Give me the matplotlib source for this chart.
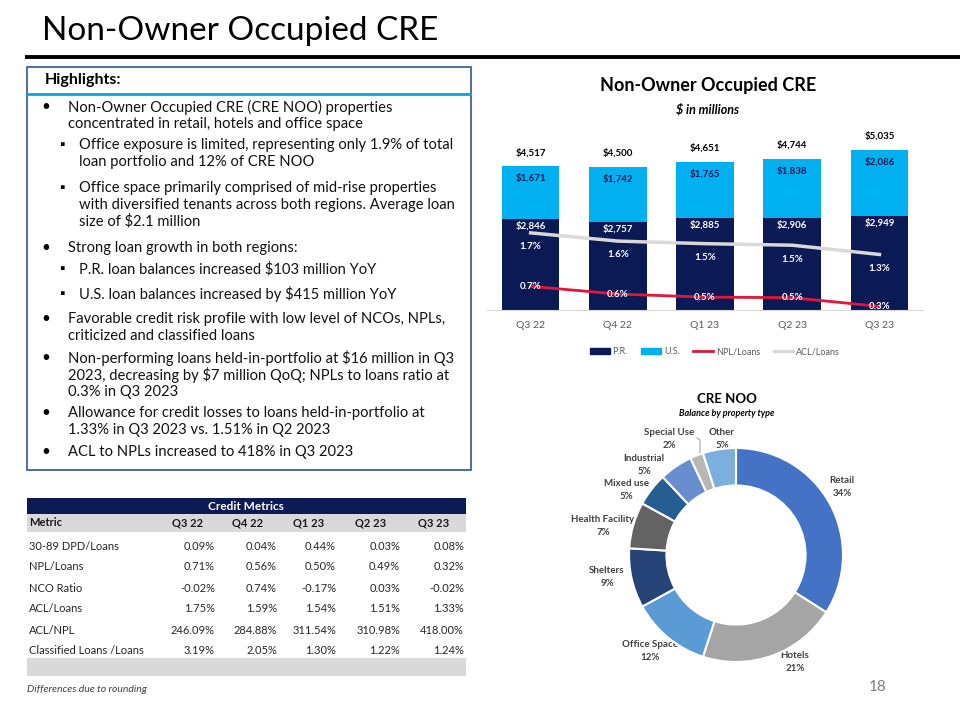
import matplotlib.pyplot as plt
from matplotlib.patches import Rectangle, Patch
from matplotlib.lines import Line2D

plt.rcParams['font.family'] = ['Lato', 'DejaVu Sans']

# ---- data ----
quarters = ["Q3 22", "Q4 22", "Q1 23", "Q2 23", "Q3 23"]
pr_balance = [2846, 2757, 2885, 2906, 2949]
us_balance = [1671, 1742, 1765, 1838, 2086]
total_balance = [4517, 4500, 4651, 4744, 5035]
npl_loans = [0.71, 0.56, 0.50, 0.49, 0.32]
acl_loans = [1.75, 1.59, 1.54, 1.51, 1.33]
npl_labels = ["0.7%", "0.6%", "0.5%", "0.5%", "0.3%"]
acl_labels = ["1.7%", "1.6%", "1.5%", "1.5%", "1.3%"]

property_types = ["Retail", "Hotels", "Office Space", "Shelters", "Health Facility",
                  "Mixed use", "Industrial", "Special Use", "Other"]
property_share = [34, 21, 12, 9, 7, 5, 5, 2, 5]

table_header = ["Metric"] + quarters
table_rows = ["30-89 DPD/Loans", "NPL/Loans", "NCO Ratio", "ACL/Loans", "ACL/NPL",
              "Classified Loans /Loans"]
table_values = [
    ["0.09%", "0.04%", "0.44%", "0.03%", "0.08%"],
    ["0.71%", "0.56%", "0.50%", "0.49%", "0.32%"],
    ["-0.02%", "0.74%", "-0.17%", "0.03%", "-0.02%"],
    ["1.75%", "1.59%", "1.54%", "1.51%", "1.33%"],
    ["246.09%", "284.88%", "311.54%", "310.98%", "418.00%"],
    ["3.19%", "2.05%", "1.30%", "1.22%", "1.24%"],
]

highlights = [
    (0, ["Non-Owner Occupied CRE (CRE NOO) properties",
         "concentrated in retail, hotels and office space"]),
    (1, ["Office exposure is limited, representing only 1.9% of total",
         "loan portfolio and 12% of CRE NOO"]),
    (1, ["Office space primarily comprised of mid-rise properties",
         "with diversified tenants across both regions. Average loan",
         "size of $2.1 million"]),
    (0, ["Strong loan growth in both regions:"]),
    (1, ["P.R. loan balances increased $103 million YoY"]),
    (1, ["U.S. loan balances increased by $415 million YoY"]),
    (0, ["Favorable credit risk profile with low level of NCOs, NPLs,",
         "criticized and classified loans"]),
    (0, ["Non-performing loans held-in-portfolio at $16 million in Q3",
         "2023, decreasing by $7 million QoQ; NPLs to loans ratio at",
         "0.3% in Q3 2023"]),
    (0, ["Allowance for credit losses to loans held-in-portfolio at",
         "1.33% in Q3 2023 vs. 1.51% in Q2 2023"]),
    (0, ["ACL to NPLs increased to 418% in Q3 2023"]),
]

# ---- styles / layout ----
navy = "#0b1a55"
cyan = "#00b0f0"
red = "#e0163a"
light_gray = "#d9d9d9"
donut_colors = ["#4472c4", "#a5a5a5", "#5b9bd5", "#264478", "#636363",
                "#255e91", "#698ed0", "#b7b7b7", "#7cafdd"]
highlight_y = [107, 145, 188, 248, 269, 294, 319, 358, 413, 452]
donut_label_xy = [(842, 487), (795, 662), (650, 651), (607, 577), (603, 526),
                  (626, 490), (644, 465), (669, 439), (722, 439)]

fig = plt.figure(figsize=(9.6, 7.2), dpi=100)

# background axes in pixel coordinates
bg = fig.add_axes([0, 0, 1, 1])
bg.set_xlim(0, 960)
bg.set_ylim(720, 0)
bg.axis("off")

# slide title
bg.text(42, 31, "Non-Owner Occupied CRE", fontsize=24, va="center", color="black")
bg.plot([25, 960], [57, 57], color="black", lw=2.8, solid_capstyle="butt")

# highlights box
bg.add_patch(Rectangle((27, 67), 444, 403, fill=False, edgecolor="#3d64a0", lw=1.3))
bg.plot([28, 470], [94, 94], color="#0aa2dc", lw=2)
bg.text(45, 80, "Highlights:", fontsize=11.5, fontweight="bold", va="center")
for (level, lines), y0 in zip(highlights, highlight_y):
    if level == 0:
        bg.text(41, y0, "\u2022", fontsize=11, va="center")
        tx = 68
    else:
        bg.text(59, y0, "\u25aa", fontsize=10, va="center")
        tx = 79
    for k, line in enumerate(lines):
        bg.text(tx, y0 + k * 16.8, line, fontsize=10.6, va="center", color="#111111")

# credit metrics table
bg.add_patch(Rectangle((27, 498), 439, 16, color=navy, lw=0))
bg.text(246, 506, "Credit Metrics", fontsize=8.5, fontweight="bold", color="white",
        ha="center", va="center")
bg.add_patch(Rectangle((27, 514), 439, 18, color=light_gray, lw=0))
col_centers = [188, 248, 309, 371, 434]
col_rights = [215, 277, 336, 400, 464]
bg.text(29, 523, table_header[0], fontsize=8, fontweight="bold", va="center", color="#1a1a1a")
for cx, h in zip(col_centers, table_header[1:]):
    bg.text(cx, 523, h, fontsize=8, fontweight="bold", ha="center", va="center", color="#1a1a1a")
for r, (name, vals) in enumerate(zip(table_rows, table_values)):
    y = 546 + r * 21
    bg.text(29, y, name, fontsize=8, va="center", color="#262626")
    for rx, v in zip(col_rights, vals):
        bg.text(rx, y, v, fontsize=8, ha="right", va="center", color="#262626")
bg.add_patch(Rectangle((27, 658), 439, 18, color=light_gray, lw=0))
bg.text(27, 690, "Differences due to rounding", fontsize=7.5, style="italic",
        va="center", color="#404040")
bg.text(878, 687, "18", fontsize=11, ha="center", va="center", color="#7f7f7f")

# ---- stacked bar chart ----
bg.text(708, 85, "Non-Owner Occupied CRE", fontsize=13, fontweight="bold",
        ha="center", va="center")
bg.text(708, 109, "$ in millions", fontsize=9, fontweight="bold", style="italic",
        ha="center", va="center")

ax = fig.add_axes([487 / 960, 1 - 310 / 720, 436 / 960, 180 / 720])
ax.patch.set_alpha(0)
x = list(range(len(quarters)))
ax.bar(x, pr_balance, width=0.66, color=navy)
ax.bar(x, us_balance, width=0.66, bottom=pr_balance, color=cyan)
ax.set_xlim(-0.5, 4.5)
ax.set_ylim(0, 5660)
for s in ["top", "right", "left"]:
    ax.spines[s].set_visible(False)
ax.spines["bottom"].set_color(light_gray)
ax.set_yticks([])
ax.set_xticks(x)
ax.set_xticklabels(quarters, fontsize=7.5, color="#595959")
ax.tick_params(axis="x", length=0, pad=8)
for i in x:
    ax.annotate(f"${pr_balance[i]:,}", (i, pr_balance[i]), xytext=(0, -5),
                textcoords="offset points", ha="center", va="center",
                fontsize=7, fontweight="bold", color="white")
    ax.annotate(f"${us_balance[i]:,}", (i, total_balance[i]), xytext=(0, -8.5),
                textcoords="offset points", ha="center", va="center",
                fontsize=7, fontweight="bold", color=navy)
    ax.annotate(f"${total_balance[i]:,}", (i, total_balance[i]), xytext=(0, 10),
                textcoords="offset points", ha="center", va="center",
                fontsize=7, fontweight="bold", color="black")

ax2 = ax.twinx()
ax2.set_ylim(0.25, 3.75)
ax2.axis("off")
ax2.plot(x, acl_loans, color=light_gray, lw=2.5)
ax2.plot(x, npl_loans, color=red, lw=2)
for i in x:
    ax2.annotate(acl_labels[i], (i, acl_loans[i]), xytext=(0, -10),
                 textcoords="offset points", ha="center", va="center",
                 fontsize=7, fontweight="bold", color="white")
    ax2.annotate(npl_labels[i], (i, npl_loans[i]), xytext=(0, 0),
                 textcoords="offset points", ha="center", va="center",
                 fontsize=7, fontweight="bold", color="white")

handles = [Patch(color=navy), Patch(color=cyan),
           Line2D([], [], color=red, lw=2), Line2D([], [], color=light_gray, lw=2.5)]
fig.legend(handles, ["P.R.", "U.S.", "NPL/Loans", "ACL/Loans"], loc="center",
           bbox_to_anchor=(715 / 960, 1 - 352 / 720), ncol=4, frameon=False,
           fontsize=6.5, labelcolor="#595959", handlelength=2.2, handleheight=0.6,
           columnspacing=1.5, handletextpad=0.3)

# ---- donut chart ----
bg.text(727, 399, "CRE NOO", fontsize=9.5, fontweight="bold", ha="center", va="center")
bg.text(727, 413, "Balance by property type", fontsize=6.5, fontweight="bold",
        style="italic", ha="center", va="center")

ax3 = fig.add_axes([(736 - 130) / 960, 1 - (555 + 130) / 720, 260 / 960, 260 / 720])
ax3.pie(property_share, colors=donut_colors, startangle=90, counterclock=False,
        radius=1, wedgeprops=dict(width=0.35, edgecolor="white", linewidth=1.5))
ax3.set_xlim(-1.215, 1.215)
ax3.set_ylim(-1.215, 1.215)
ax3.set_aspect("equal")
ax3.axis("off")

for (lx, ly), name, share in zip(donut_label_xy, property_types, property_share):
    bg.text(lx, ly, f"{name}\n{share}%", fontsize=7, fontweight="bold", ha="center",
            va="center", color="#404040", linespacing=1.5, zorder=5)
bg.plot([697, 700, 700], [438, 440, 472], color="#a6a6a6", lw=0.8, zorder=5)

fig.savefig("out.png", dpi=100)
